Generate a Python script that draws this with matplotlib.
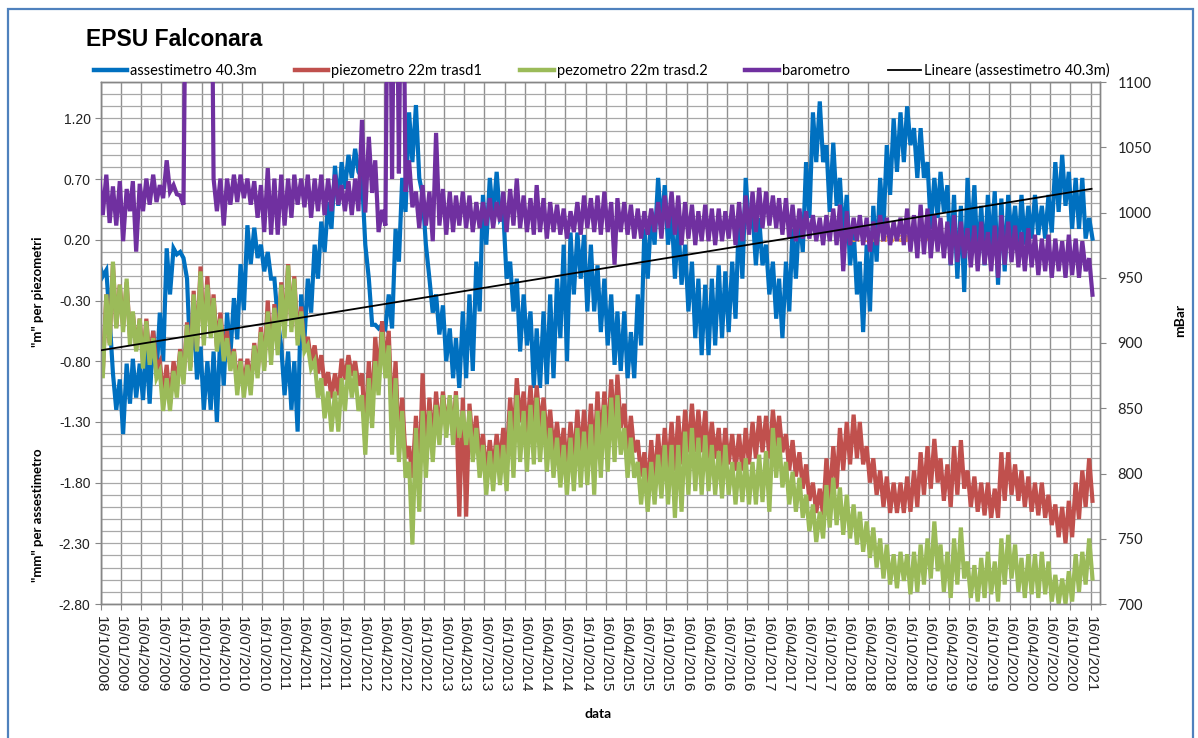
import numpy as np
import pandas as pd
import matplotlib
matplotlib.use("Agg")
import matplotlib.pyplot as plt
import matplotlib.dates as mdates
from matplotlib.lines import Line2D
from matplotlib.patches import Rectangle

plt.rcParams["font.family"] = "Liberation Sans"
plt.rcParams["axes.unicode_minus"] = False

# Monthly sampling, Oct 2008 .. Jan 2021; each month holds the upper and lower
# edge of the recorded band.
months = pd.date_range("2008-10-01", periods=148, freq="MS")

# assestimetro 40.3m (mm)
assest_hi = [
    0.00, -0.05, -0.90, -0.95, -0.82, -0.78, -0.82, -0.68, -0.55, -0.40, 0.13, 0.13,
    0.10, -0.12, -0.40, -0.68, -0.80, -0.72, -0.55, -0.40, -0.28, 0.00, 0.32, 0.30,
    0.16, 0.10, -0.12, -0.68, -0.72, -0.80, -0.25, -0.12, 0.16, 0.35, 0.51, 0.81,
    0.84, 0.90, 0.95, 0.71, -0.12, -0.50, -0.50, -0.25, 0.29, 0.71, 1.25, 1.31,
    0.57, -0.12, -0.25, -0.34, -0.53, -0.61, -0.39, -0.25, 0.02, 0.57, 0.71, 0.76,
    0.43, 0.02, -0.12, -0.25, -0.39, -0.53, -0.39, -0.25, -0.12, 0.16, 0.26, 0.26,
    0.24, 0.16, -0.01, -0.12, -0.25, -0.39, -0.39, -0.56, -0.25, 0.29, 0.43, 0.71,
    0.65, 0.43, 0.35, 0.16, 0.02, -0.12, -0.17, -0.12, -0.01, -0.06, 0.02, 0.43,
    0.71, 0.43, 0.38, 0.16, 0.02, -0.12, 0.02, 0.29, 0.43, 0.84, 1.25, 1.34,
    0.98, 1.00, 0.71, 0.57, 0.29, 0.02, 0.16, 0.48, 0.71, 0.98, 1.20, 1.25,
    1.30, 1.12, 1.12, 0.84, 0.71, 0.76, 0.65, 0.57, 0.48, 0.71, 0.65, 0.48,
    0.57, 0.60, 0.54, 0.57, 0.48, 0.57, 0.48, 0.57, 0.48, 0.57, 0.84, 0.90,
    0.76, 0.71, 0.71, 0.38,
]
assest_lo = [
    -0.10, -0.45, -1.20, -1.40, -1.15, -1.10, -1.12, -1.15, -0.92, -0.80, -0.25, 0.08,
    0.05, -0.80, -0.95, -1.20, -1.20, -1.30, -1.00, -0.75, -0.62, -0.38, 0.00, 0.05,
    -0.06, -0.12, -0.45, -1.08, -1.20, -1.38, -0.62, -0.40, -0.12, 0.10, 0.29, 0.48,
    0.62, 0.71, 0.76, 0.16, -0.50, -0.53, -0.53, -0.53, 0.02, 0.43, 0.84, 0.71,
    0.16, -0.40, -0.58, -0.80, -0.94, -1.02, -0.94, -0.88, -0.39, 0.16, 0.38, 0.38,
    -0.12, -0.39, -0.72, -0.67, -1.02, -1.02, -0.99, -0.94, -0.61, -0.80, -0.25, -0.12,
    -0.39, -0.39, -0.56, -0.67, -0.83, -0.88, -0.94, -0.94, -0.67, -0.12, 0.16, 0.29,
    0.16, -0.12, -0.17, -0.39, -0.61, -0.75, -0.75, -0.67, -0.61, -0.56, -0.45, -0.12,
    0.29, -0.01, -0.01, -0.25, -0.45, -0.61, -0.39, -0.12, 0.10, 0.38, 0.84, 0.84,
    0.43, 0.48, 0.21, -0.01, -0.25, -0.56, -0.39, 0.02, 0.29, 0.57, 0.76, 0.84,
    0.98, 0.71, 0.71, 0.29, 0.38, 0.43, -0.01, -0.12, -0.23, 0.16, 0.02, -0.01,
    0.10, -0.17, -0.06, 0.21, 0.10, 0.16, 0.21, 0.24, 0.21, 0.26, 0.43, 0.48,
    0.29, 0.29, 0.21, 0.21,
]

# piezometro 22m trasd1 (m)
piezo1_hi = [
    -0.67, -0.25, 0.00, -0.17, -0.15, -0.40, -0.45, -0.45, -0.55, -0.80, -0.83, -0.80,
    -0.70, -0.48, -0.22, -0.02, -0.10, -0.25, -0.40, -0.55, -0.70, -0.78, -0.78, -0.65,
    -0.52, -0.30, -0.33, -0.15, 0.00, -0.10, -0.35, -0.60, -0.67, -0.75, -0.89, -0.90,
    -0.78, -0.75, -0.80, -0.90, -0.80, -0.60, -0.47, -0.55, -0.80, -1.10, -1.50, -1.25,
    -0.90, -1.10, -1.05, -1.05, -1.10, -1.05, -1.10, -1.15, -1.25, -1.40, -1.45, -1.40,
    -1.35, -1.10, -0.94, -1.05, -1.00, -1.00, -1.10, -1.20, -1.30, -1.35, -1.30, -1.20,
    -1.20, -1.15, -1.05, -1.05, -0.95, -0.91, -1.15, -1.25, -1.45, -1.55, -1.45, -1.40,
    -1.35, -1.30, -1.25, -1.20, -1.15, -1.20, -1.21, -1.30, -1.35, -1.35, -1.40, -1.40,
    -1.35, -1.30, -1.25, -1.25, -1.20, -1.25, -1.40, -1.45, -1.55, -1.65, -1.80, -1.85,
    -1.60, -1.50, -1.35, -1.30, -1.24, -1.30, -1.50, -1.60, -1.70, -1.75, -1.80, -1.80,
    -1.75, -1.70, -1.55, -1.50, -1.44, -1.60, -1.65, -1.50, -1.45, -1.70, -1.75, -1.80,
    -1.80, -1.85, -1.55, -1.55, -1.65, -1.70, -1.75, -1.80, -1.80, -1.90, -1.98, -2.00,
    -1.95, -1.80, -1.70, -1.60,
]
piezo1_lo = [
    -0.90, -0.65, -0.52, -0.52, -0.60, -0.70, -0.80, -0.80, -0.85, -1.10, -1.15, -1.00,
    -0.95, -0.85, -0.70, -0.62, -0.58, -0.68, -0.75, -0.85, -1.00, -1.00, -1.00, -0.90,
    -0.85, -0.75, -0.70, -0.55, -0.52, -0.62, -0.70, -0.80, -0.90, -1.00, -1.10, -1.08,
    -0.95, -0.92, -1.00, -1.40, -1.25, -0.95, -0.85, -1.30, -1.50, -1.60, -1.76, -1.80,
    -1.60, -1.50, -1.40, -1.35, -1.40, -2.08, -2.08, -1.50, -1.60, -1.75, -1.70, -1.65,
    -1.60, -1.45, -1.30, -1.40, -1.40, -1.35, -1.45, -1.55, -1.60, -1.70, -1.65, -1.60,
    -1.60, -1.60, -1.50, -1.45, -1.40, -1.35, -1.55, -1.55, -1.75, -1.85, -1.80, -1.75,
    -1.70, -1.70, -1.65, -1.55, -1.55, -1.55, -1.60, -1.60, -1.70, -1.65, -1.70, -1.70,
    -1.65, -1.60, -1.55, -1.60, -1.50, -1.55, -1.70, -1.75, -1.85, -1.95, -2.05, -2.07,
    -1.95, -1.85, -1.70, -1.65, -1.60, -1.65, -1.80, -1.90, -2.00, -2.05, -2.05, -2.05,
    -2.04, -2.00, -1.90, -1.85, -1.80, -1.95, -2.00, -1.90, -1.85, -2.00, -2.04, -2.07,
    -2.09, -2.09, -1.95, -1.90, -1.95, -2.00, -2.04, -2.07, -2.09, -2.15, -2.25, -2.30,
    -2.25, -2.10, -2.00, -1.95,
]

# pezometro 22m trasd.2 (m)
piezo2_hi = [
    -0.67, -0.25, 0.02, -0.17, -0.12, -0.39, -0.45, -0.47, -0.61, -0.88, -0.94, -0.88,
    -0.72, -0.50, -0.25, -0.06, -0.17, -0.28, -0.45, -0.61, -0.72, -0.80, -0.83, -0.67,
    -0.56, -0.39, -0.36, -0.17, -0.01, -0.12, -0.39, -0.67, -0.80, -0.94, -1.05, -1.05,
    -0.94, -0.83, -0.88, -1.08, -0.94, -0.80, -0.56, -0.67, -0.94, -1.21, -1.63, -1.35,
    -1.21, -1.21, -1.16, -1.08, -1.08, -1.08, -1.21, -1.21, -1.35, -1.49, -1.54, -1.49,
    -1.49, -1.21, -1.08, -1.21, -1.16, -1.10, -1.21, -1.35, -1.43, -1.49, -1.43, -1.35,
    -1.38, -1.32, -1.21, -1.16, -1.10, -1.08, -1.35, -1.43, -1.63, -1.68, -1.63, -1.57,
    -1.49, -1.49, -1.49, -1.38, -1.35, -1.43, -1.41, -1.49, -1.54, -1.49, -1.63, -1.63,
    -1.60, -1.63, -1.57, -1.54, -1.35, -1.43, -1.63, -1.71, -1.76, -1.90, -1.98, -2.04,
    -1.82, -1.76, -1.84, -1.90, -1.98, -2.04, -2.12, -2.17, -2.26, -2.31, -2.39, -2.37,
    -2.39, -2.37, -2.31, -2.26, -2.12, -2.31, -2.37, -2.26, -2.17, -2.45, -2.48, -2.42,
    -2.37, -2.45, -2.26, -2.23, -2.31, -2.42, -2.39, -2.39, -2.37, -2.45, -2.56, -2.59,
    -2.53, -2.39, -2.37, -2.26,
]
piezo2_lo = [
    -0.94, -0.67, -0.53, -0.56, -0.67, -0.72, -0.86, -0.83, -0.94, -1.21, -1.21, -1.10,
    -0.99, -0.88, -0.72, -0.67, -0.61, -0.72, -0.80, -0.88, -1.08, -1.10, -1.08, -0.94,
    -0.88, -0.83, -0.75, -0.61, -0.56, -0.67, -0.72, -0.86, -1.10, -1.27, -1.38, -1.38,
    -1.21, -1.10, -1.21, -1.57, -1.35, -1.08, -0.94, -1.57, -1.63, -1.76, -2.31, -2.04,
    -1.76, -1.63, -1.49, -1.43, -1.49, -1.43, -1.49, -1.63, -1.76, -1.90, -1.87, -1.82,
    -1.87, -1.76, -1.63, -1.71, -1.65, -1.63, -1.71, -1.76, -1.84, -1.90, -1.87, -1.84,
    -1.82, -1.90, -1.76, -1.71, -1.63, -1.57, -1.76, -1.76, -1.98, -2.04, -1.98, -1.93,
    -1.98, -2.09, -2.04, -1.90, -1.87, -1.90, -1.87, -1.90, -1.93, -1.90, -1.98, -1.96,
    -1.98, -1.98, -1.96, -2.04, -1.76, -1.84, -1.98, -2.04, -2.09, -2.20, -2.29, -2.26,
    -2.17, -2.15, -2.23, -2.26, -2.31, -2.37, -2.42, -2.50, -2.59, -2.64, -2.67, -2.61,
    -2.72, -2.70, -2.64, -2.59, -2.53, -2.70, -2.75, -2.64, -2.59, -2.75, -2.78, -2.75,
    -2.72, -2.78, -2.64, -2.59, -2.70, -2.75, -2.72, -2.75, -2.72, -2.78, -2.80, -2.80,
    -2.78, -2.70, -2.64, -2.59,
]

# barometro (mBar); 1300 marks readings beyond the top of the scale
baro_hi = [
    1026, 1029, 1020, 1024, 1018, 1024, 1022, 1026, 1029, 1021, 1040, 1021,
    1013, 1300, 1300, 1300, 1300, 1026, 1026, 1026, 1029, 1029, 1026, 1024,
    1021, 1034, 1026, 1029, 1026, 1029, 1026, 1029, 1026, 1029, 1026, 1029,
    1021, 1024, 1026, 1071, 1058, 1040, 1002, 1300, 1300, 1300, 1040, 1016,
    1021, 1016, 1061, 1018, 1016, 1013, 1016, 1013, 1008, 1008, 1011, 1008,
    1016, 1018, 1026, 1013, 1011, 1021, 1011, 1008, 1006, 1003, 1001, 1008,
    1013, 1011, 1013, 1016, 1008, 1011, 1008, 1006, 1003, 1001, 1003, 1008,
    1013, 1016, 1013, 1008, 1006, 1001, 1006, 1003, 1003, 1001, 1006, 1008,
    1013, 1016, 1019, 1016, 1013, 1011, 1011, 1006, 1003, 1001, 998, 996,
    998, 1003, 1006, 1001, 996, 998, 996, 993, 998, 996, 993, 996,
    1003, 998, 1006, 1003, 998, 996, 993, 998, 993, 988, 990, 993,
    985, 990, 998, 993, 990, 985, 988, 983, 980, 983, 980, 978,
    983, 980, 978, 965,
]
baro_lo = [
    998, 992, 990, 978, 1001, 970, 1001, 1006, 1008, 1011, 1016, 1014,
    1006, 1300, 1300, 1300, 1300, 1001, 990, 1006, 1008, 1011, 1006, 996,
    985, 983, 983, 990, 996, 1006, 1004, 996, 1001, 998, 1001, 1006,
    1001, 998, 1001, 1000, 1015, 985, 990, 1026, 1030, 1016, 1004, 988,
    990, 978, 990, 983, 985, 990, 988, 985, 988, 990, 988, 993,
    985, 990, 988, 985, 983, 985, 980, 985, 983, 980, 985, 983,
    988, 985, 983, 985, 960, 985, 983, 980, 980, 983, 985, 980,
    988, 983, 975, 980, 975, 978, 978, 975, 978, 980, 975, 978,
    983, 985, 988, 990, 988, 983, 980, 978, 980, 980, 978, 975,
    978, 975, 955, 975, 978, 975, 970, 975, 978, 975, 978, 975,
    970, 965, 968, 965, 970, 965, 960, 962, 965, 958, 955, 960,
    955, 950, 960, 962, 958, 955, 958, 952, 955, 950, 955, 950,
    952, 950, 955, 937,
]

# Linear trend of the assestimetro, at the first and last reading
trend_dates = ["2008-10-16", "2021-01-20"]
trend_vals = [-0.71, 0.62]

labels = ["assestimetro 40.3m", "piezometro 22m trasd1",
          "pezometro 22m trasd.2", "barometro",
          "Lineare (assestimetro 40.3m)"]
colors = ["#0070C0", "#C0504D", "#9BBB59", "#7030A0", "#000000"]


def band_trace(hi, lo):
    """Alternate the upper and lower edge within each month."""
    t, v = [], []
    for d, h, l in zip(months, hi, lo):
        t += [d + pd.Timedelta(days=8), d + pd.Timedelta(days=23)]
        v += [h, l]
    return t, v


W, H = 1198, 738
fig = plt.figure(figsize=(W / 100, H / 100), dpi=100)
fig.patch.set_facecolor("white")

ax = fig.add_axes([101 / W, 1 - 604 / H, 999 / W, 522 / H])
ax2 = ax.twinx()

lw = 3.0
for hi, lo, c, z in [(assest_hi, assest_lo, colors[0], 3),
                     (piezo1_hi, piezo1_lo, colors[1], 4),
                     (piezo2_hi, piezo2_lo, colors[2], 5)]:
    t, v = band_trace(hi, lo)
    ax.plot(t, v, color=c, lw=lw, solid_joinstyle="miter", zorder=z)

t, v = band_trace(baro_hi, baro_lo)
ax2.plot(t, v, color=colors[3], lw=lw, solid_joinstyle="miter", zorder=3)

# trend line drawn above every series, in the left-axis units
ax2.plot(pd.to_datetime(trend_dates), trend_vals, color="black", lw=1.3,
         transform=ax.transData, zorder=6)

# axes ranges and ticks
x0 = mdates.date2num(pd.Timestamp("2008-10-16"))
x1 = mdates.date2num(pd.Timestamp("2021-02-27"))
ax.set_xlim(x0, x1)
xt = [pd.Timestamp("2008-10-16") + pd.DateOffset(months=3 * k) for k in range(50)]
ax.set_xticks(xt)
ax.xaxis.set_major_formatter(mdates.DateFormatter("%d/%m/%Y"))
for lab in ax.get_xticklabels():
    lab.set_rotation(-90)
    lab.set_fontsize(11)
    lab.set_va("top")
    lab.set_ha("center")

ax.set_ylim(-2.8, 1.5)
ax.set_yticks(np.arange(-2.8, 1.21, 0.5))
ax.set_yticks(np.arange(-2.8, 1.501, 0.1), minor=True)
ax.yaxis.set_major_formatter(matplotlib.ticker.FormatStrFormatter("%.2f"))

ax2.set_ylim(700, 1100)
ax2.set_yticks(np.arange(700, 1101, 50))

ax.set_axisbelow(True)
ax.grid(which="both", axis="y", color="#a8a8a8", lw=0.9)
ax.grid(which="major", axis="x", color="#909090", lw=1.0)

spine_c = "#868686"
for a in (ax, ax2):
    for s in a.spines.values():
        s.set_color(spine_c)
        s.set_linewidth(1.0)

ax.tick_params(axis="y", which="major", length=4.5, color=spine_c,
               labelsize=10, pad=3, labelcolor="#222222")
ax.tick_params(axis="y", which="minor", length=0)
ax.tick_params(axis="x", length=4, color=spine_c, pad=5, labelcolor="#222222")
ax2.tick_params(axis="y", length=4.5, color=spine_c, labelsize=10.5, pad=8,
                labelcolor="#222222")
for lab in ax2.get_yticklabels():
    lab.set_family("Lato")

# annotation of the trend slope
ax.text(pd.Timestamp("2018-01-20"), 0.19, "0.1mm/anno", color="#F0A030",
        fontsize=10, fontweight="bold", family="Lato", zorder=7)

# titles and axis labels
fig.text(86 / W, 1 - 46 / H, "EPSU Falconara", fontsize=16.5,
         fontweight="bold", ha="left", va="baseline")
fig.text(38 / W, 1 - 292 / H, '"m" per piezometri', rotation=90,
         fontsize=9.5, fontweight="bold", family="Lato", ha="center", va="center")
fig.text(38 / W, 1 - 515 / H, '"mm" per assestimetro', rotation=90,
         fontsize=9.5, fontweight="bold", family="Lato", ha="center", va="center")
fig.text(1180 / W, 1 - 320 / H, "mBar", rotation=90, fontsize=10,
         fontweight="bold", family="Lato", ha="center", va="center")
fig.text(598 / W, 1 - 714 / H, "data", fontsize=10, fontweight="bold",
         family="Lato", ha="center", va="center")

# legend
handles = [Line2D([], [], color=c, lw=3.2) for c in colors[:4]]
handles.append(Line2D([], [], color="black", lw=1.3))
fig.legend(handles, labels, ncol=5, loc="center left",
           bbox_to_anchor=(88 / W, 1 - 71 / H), frameon=False,
           prop={"family": "Lato", "size": 10.5}, handlelength=2.3,
           handletextpad=0.2, columnspacing=2.6, borderaxespad=0)

# outer frame
fig.patches.append(Rectangle((8 / W, -0.02), 1185 / W, 1 - 9 / H + 0.02,
                             transform=fig.transFigure, fill=False,
                             edgecolor="#4F81BD", lw=1.6))

fig.savefig("out.png", dpi=100, facecolor="white")
